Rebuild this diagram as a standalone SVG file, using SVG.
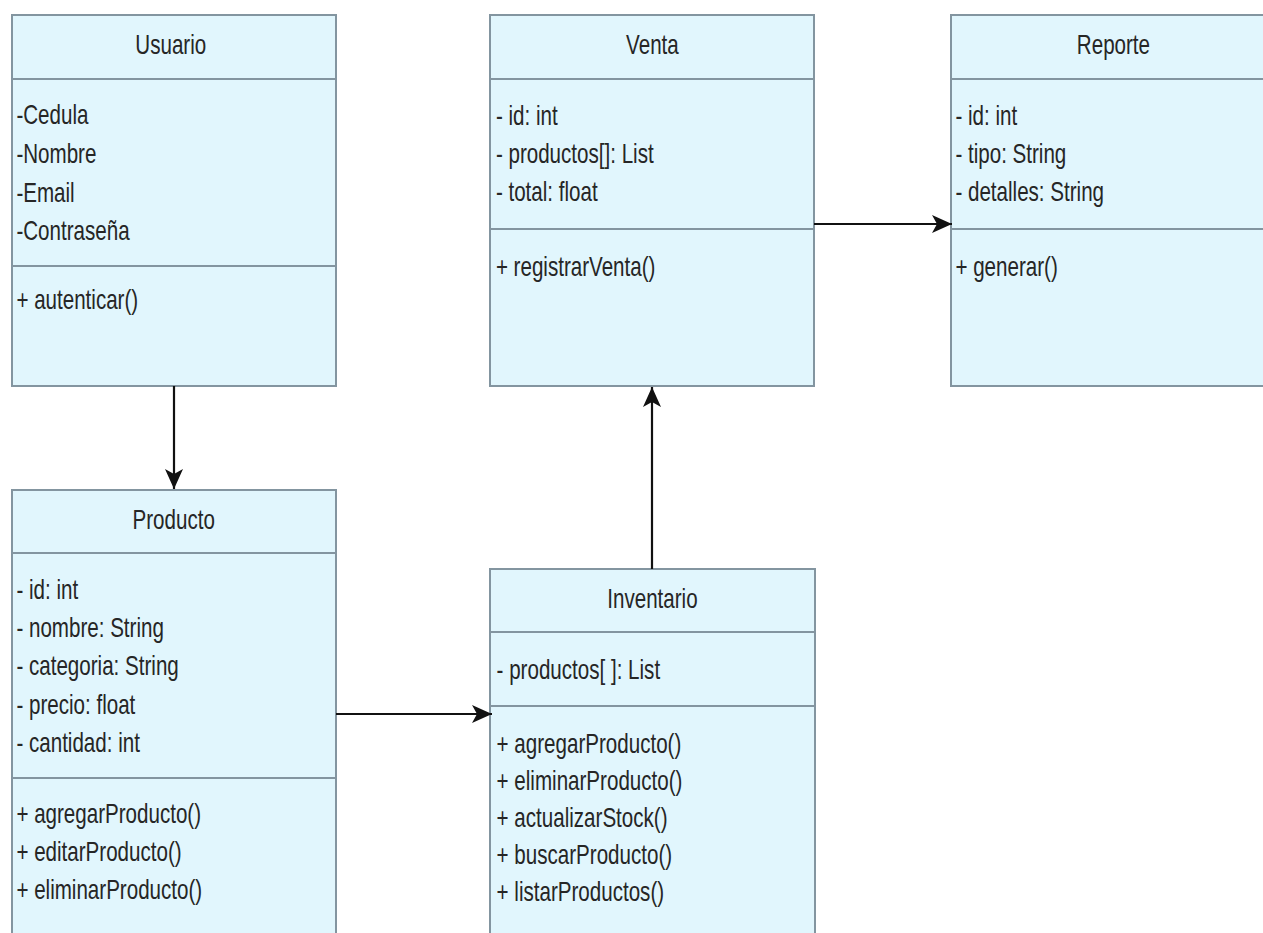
<svg xmlns="http://www.w3.org/2000/svg" width="1263" height="933" viewBox="0 0 1263 933">
  <style>
    .box { fill: #e1f6fd; stroke: #8395a0; stroke-width: 2; }
    .sep { stroke: #8395a0; stroke-width: 2; fill: none; }
    .t { font-family: "Liberation Sans", Arial, sans-serif; font-size: 28px; fill: #262626; }
    .c { text-anchor: middle; }
    .edge { stroke: #111; stroke-width: 2.2; fill: none; marker-end: url(#arrow); }
  </style>
  <defs>
    <marker id="arrow" markerUnits="userSpaceOnUse" markerWidth="22" markerHeight="18" refX="20" refY="9" orient="auto">
      <path d="M0,0 L20,9 L0,18 L5,9 Z" fill="#111"/>
    </marker>
  </defs>
  <rect width="1263" height="933" fill="#ffffff"/>

  <!-- class: Usuario -->
  <g id="usuario">
    <rect class="box" x="12" y="15" width="324" height="371"/>
    <line class="sep" x1="12" y1="79" x2="336" y2="79"/>
    <line class="sep" x1="12" y1="266" x2="336" y2="266"/>
    <g transform="translate(12,0) scale(0.735,1)">
      <text class="t c" x="216" y="54">Usuario</text>
      <text class="t" x="6" y="124">-Cedula</text>
      <text class="t" x="6" y="163">-Nombre</text>
      <text class="t" x="6" y="202">-Email</text>
      <text class="t" x="6" y="240">-Contraseña</text>
      <text class="t" x="6" y="309">+ autenticar()</text>
    </g>
  </g>

  <!-- class: Venta -->
  <g id="venta">
    <rect class="box" x="490" y="15" width="324" height="371"/>
    <line class="sep" x1="490" y1="79" x2="814" y2="79"/>
    <line class="sep" x1="490" y1="229" x2="814" y2="229"/>
    <g transform="translate(490,0) scale(0.735,1)">
      <text class="t c" x="221" y="54">Venta</text>
      <text class="t" x="8" y="125">- id: int</text>
      <text class="t" x="8" y="163">- productos[]: List</text>
      <text class="t" x="8" y="201">- total: float</text>
      <text class="t" x="8" y="276">+ registrarVenta()</text>
    </g>
  </g>

  <!-- class: Reporte -->
  <g id="reporte">
    <rect class="box" x="951" y="15" width="324" height="371"/>
    <line class="sep" x1="951" y1="79" x2="1275" y2="79"/>
    <line class="sep" x1="951" y1="229" x2="1275" y2="229"/>
    <g transform="translate(951,0) scale(0.735,1)">
      <text class="t c" x="221" y="54">Reporte</text>
      <text class="t" x="6" y="125">- id: int</text>
      <text class="t" x="6" y="163">- tipo: String</text>
      <text class="t" x="6" y="201">- detalles: String</text>
      <text class="t" x="6" y="276">+ generar()</text>
    </g>
  </g>

  <!-- class: Producto -->
  <g id="producto">
    <rect class="box" x="12" y="490" width="324" height="460"/>
    <line class="sep" x1="12" y1="553" x2="336" y2="553"/>
    <line class="sep" x1="12" y1="778" x2="336" y2="778"/>
    <g transform="translate(12,0) scale(0.735,1)">
      <text class="t c" x="220" y="529">Producto</text>
      <text class="t" x="6" y="599">- id: int</text>
      <text class="t" x="6" y="637">- nombre: String</text>
      <text class="t" x="6" y="675">- categoria: String</text>
      <text class="t" x="6" y="714">- precio: float</text>
      <text class="t" x="6" y="752">- cantidad: int</text>
      <text class="t" x="6" y="823">+ agregarProducto()</text>
      <text class="t" x="6" y="861">+ editarProducto()</text>
      <text class="t" x="6" y="899">+ eliminarProducto()</text>
    </g>
  </g>

  <!-- class: Inventario -->
  <g id="inventario">
    <rect class="box" x="490" y="569" width="325" height="380"/>
    <line class="sep" x1="490" y1="632" x2="815" y2="632"/>
    <line class="sep" x1="490" y1="706" x2="815" y2="706"/>
    <g transform="translate(490,0) scale(0.735,1)">
      <text class="t c" x="221" y="608">Inventario</text>
      <text class="t" x="9" y="679">- productos[ ]: List</text>
      <text class="t" x="9" y="753">+ agregarProducto()</text>
      <text class="t" x="9" y="790">+ eliminarProducto()</text>
      <text class="t" x="9" y="827">+ actualizarStock()</text>
      <text class="t" x="9" y="864">+ buscarProducto()</text>
      <text class="t" x="9" y="901">+ listarProductos()</text>
    </g>
  </g>

  <!-- associations -->
  <g id="connectors">
    <line class="edge" x1="174" y1="386" x2="174" y2="489"/>
    <line class="edge" x1="336" y1="714" x2="492" y2="714"/>
    <line class="edge" x1="652" y1="569" x2="652" y2="387"/>
    <line class="edge" x1="814" y1="224" x2="952" y2="224"/>
  </g>
</svg>
